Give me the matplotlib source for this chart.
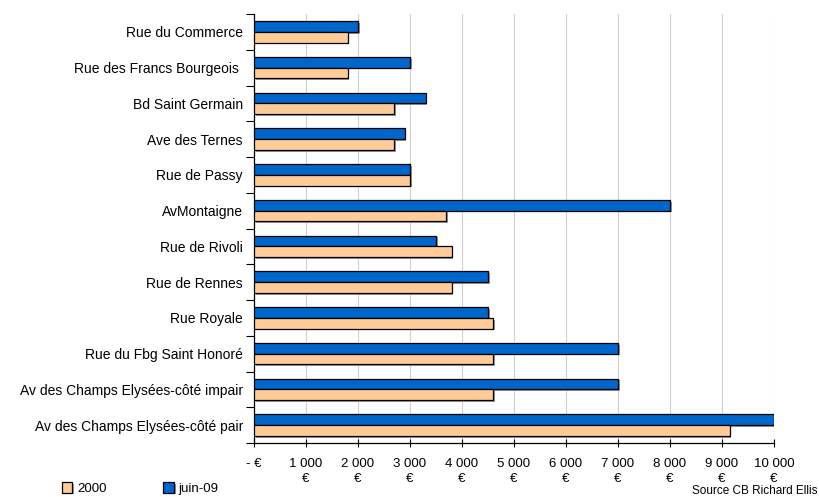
import matplotlib.pyplot as plt
import matplotlib.patheffects as pe
import numpy as np

plt.rcParams['font.family'] = ['Liberation Sans', 'DejaVu Sans']

rues = ['Rue du Commerce', 'Rue des Francs Bourgeois ', 'Bd Saint Germain',
        'Ave des Ternes', 'Rue de Passy', 'AvMontaigne', 'Rue de Rivoli',
        'Rue de Rennes', 'Rue Royale', 'Rue du Fbg Saint Honoré',
        'Av des Champs Elysées-côté impair', 'Av des Champs Elysées-côté pair']
v2000 = [1800, 1800, 2700, 2700, 3000, 3700, 3800, 3800, 4600, 4600, 4600, 9150]
vjuin09 = [2000, 3000, 3300, 2900, 3000, 8000, 3500, 4500, 4500, 7000, 7000, 10000]
xticks = [0, 1000, 2000, 3000, 4000, 5000, 6000, 7000, 8000, 9000, 10000]
xlabels = ['- €', '1 000\n€', '2 000\n€', '3 000\n€', '4 000\n€', '5 000\n€',
           '6 000\n€', '7 000\n€', '8 000\n€', '9 000\n€', '10 000\n€']

fig = plt.figure(figsize=(8.19, 4.97), dpi=100)
ax = fig.add_axes([254 / 819, 54 / 497, 520 / 819, 429 / 497])

n = len(rues)
y = np.arange(n)[::-1]
h = 0.3
shadow = [pe.SimplePatchShadow(offset=(1.2, -1.2), shadow_rgbFace='#808080', alpha=0.8), pe.Normal()]
b1 = ax.barh(y + h / 2, vjuin09, height=h, color='#0066CC', edgecolor='black',
             linewidth=0.9, label='juin-09', zorder=3)
b2 = ax.barh(y - h / 2, v2000, height=h, color='#FFCC99', edgecolor='black',
             linewidth=0.9, label='2000', zorder=3)
for b in list(b1) + list(b2):
    b.set_path_effects(shadow)

ax.set_xlim(0, 10000)
ax.set_ylim(-0.5, n - 0.5)
ax.set_xticks(xticks)
ax.set_xticklabels(xlabels, fontsize=9.5, linespacing=1.3)
ax.set_yticks(y)
ax.set_yticklabels(rues, fontsize=10)
ax.set_yticks(np.arange(n + 1) - 0.5, minor=True)
ax.tick_params(axis='y', which='major', length=0, pad=8)
ax.tick_params(axis='y', which='minor', length=6, direction='out', width=0.8)
ax.tick_params(axis='x', length=6, direction='inout', width=0.8, pad=8)
ax.xaxis.grid(True, color='#d0d0d0', linewidth=0.8, zorder=0)
ax.set_axisbelow(True)
for s in ['top', 'right']:
    ax.spines[s].set_visible(False)
for s in ['left', 'bottom']:
    ax.spines[s].set_linewidth(0.9)

fig.legend(handles=[b2, b1], labels=['2000', 'juin-09'], loc='lower left',
           bbox_to_anchor=(50 / 819, -0.02), ncol=2, frameon=False, fontsize=9.5,
           handlelength=0.8, handleheight=0.8, columnspacing=4.3, handletextpad=0.35)
fig.text(817 / 819, 0, 'Source CB Richard Ellis', ha='right', va='bottom', fontsize=8.5)

fig.savefig('out.png', dpi=100)
